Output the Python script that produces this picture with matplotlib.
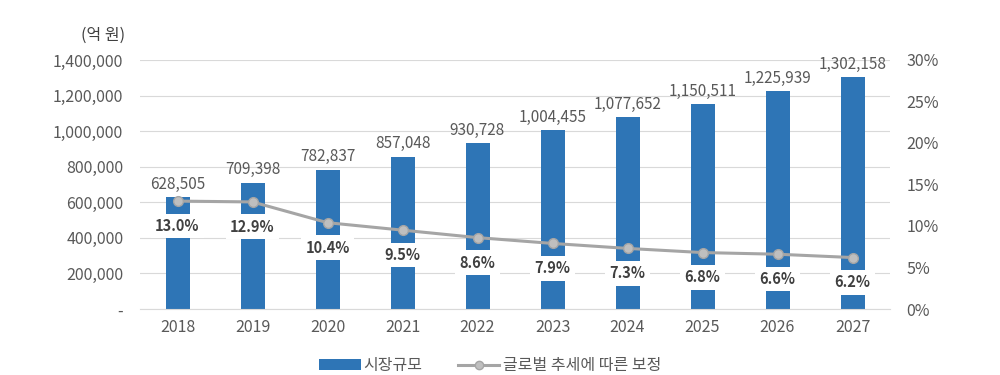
import matplotlib
matplotlib.use("Agg")
import matplotlib.pyplot as plt
from matplotlib.ticker import FuncFormatter, MultipleLocator
from matplotlib.lines import Line2D
from matplotlib.patches import Patch

plt.rcParams['font.family'] = ['Noto Sans CJK KR', 'DejaVu Sans']

years = ['2018', '2019', '2020', '2021', '2022', '2023', '2024', '2025', '2026', '2027']
market = [628505, 709398, 782837, 857048, 930728, 1004455, 1077652, 1150511, 1225939, 1302158]
growth = [13.0, 12.9, 10.4, 9.5, 8.6, 7.9, 7.3, 6.8, 6.6, 6.2]

bar_color = '#2E75B6'
line_color = '#A5A5A5'
text_gray = '#595959'

fig = plt.figure(figsize=(10, 3.75), dpi=100)
ax = fig.add_axes([0.14, 0.176, 0.75, 0.664])
ax2 = ax.twinx()

x = list(range(len(years)))
ax.bar(x, market, width=0.32, color=bar_color, zorder=2)
ax.set_ylim(0, 1400000)
ax.set_xlim(-0.5, len(years) - 0.5)
ax.yaxis.set_major_locator(MultipleLocator(200000))
ax.yaxis.set_major_formatter(FuncFormatter(lambda v, p: '-' if v == 0 else f'{int(v):,}'))
ax.grid(axis='y', color='#D9D9D9', linewidth=0.8, zorder=0)
ax.set_axisbelow(True)
ax.set_xticks(x)
ax.set_xticklabels(years)
for s in ax.spines.values():
    s.set_visible(False)
for s in ax2.spines.values():
    s.set_visible(False)
ax.spines['bottom'].set_visible(True)
ax.spines['bottom'].set_color('#D9D9D9')
ax.tick_params(axis='y', length=0, labelsize=11.5, labelcolor=text_gray, pad=12)
ax.tick_params(axis='x', length=0, labelsize=11.5, labelcolor=text_gray, pad=7)

for xi, v in zip(x, market):
    ax.text(xi, v + 25000, f'{v:,}', ha='center', va='bottom', fontsize=11, color=text_gray)

ax2.plot(x, growth, color=line_color, linewidth=2.2, marker='o', markersize=7,
         markerfacecolor='#BFBFBF', markeredgecolor='#A5A5A5', zorder=3)
ax2.set_ylim(0, 30)
ax2.yaxis.set_major_locator(MultipleLocator(5))
ax2.yaxis.set_major_formatter(FuncFormatter(lambda v, p: f'{int(v)}%'))
ax2.tick_params(axis='y', length=0, labelsize=11.5, labelcolor=text_gray, pad=12)

for xi, g in zip(x, growth):
    ax2.text(xi, g - 3.0, f'{g:.1f}%', ha='center', va='center', fontsize=10.5,
             fontweight='bold', color='#404040',
             bbox=dict(boxstyle='square,pad=0.3', facecolor='white', edgecolor='none'),
             zorder=4)

fig.text(0.125, 0.905, '(억 원)', ha='right', va='center', fontsize=11.5, color='#404040')

handles = [Patch(facecolor=bar_color, edgecolor='none', label='시장규모'),
           Line2D([0], [0], color=line_color, linewidth=2.2, marker='o', markersize=6,
                  markerfacecolor='#BFBFBF', markeredgecolor='#A5A5A5', label='글로벌 추세에 따른 보정')]
fig.legend(handles=handles, loc='center', bbox_to_anchor=(0.49, 0.025), ncol=2, frameon=False,
           fontsize=11.5, labelcolor=text_gray, handlelength=2.6, handletextpad=0.2, columnspacing=2.2)

fig.savefig('out.png', dpi=100)
